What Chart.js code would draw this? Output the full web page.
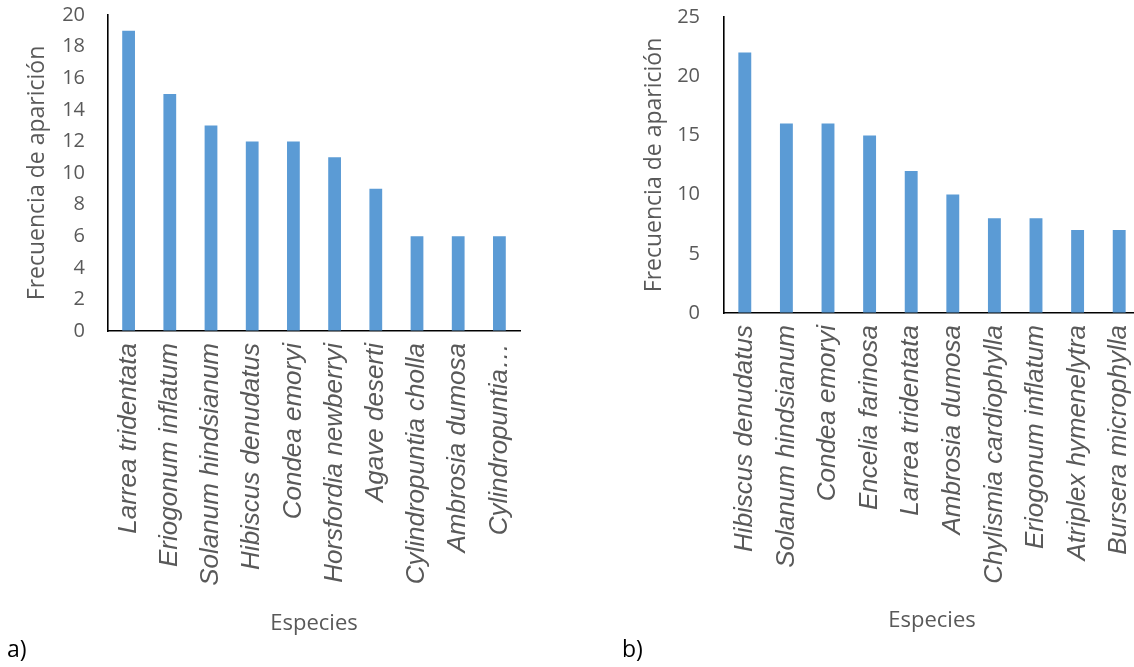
<!DOCTYPE html>
<html lang="es">
<head>
<meta charset="utf-8">
<title>Frecuencia de aparición por especie</title>
<script src="https://cdn.jsdelivr.net/npm/chart.js@4/dist/chart.umd.min.js"></script>
<style>
  html, body { margin: 0; padding: 0; background: #fff; overflow: hidden; }
  body { width: 1134px; height: 667px; position: relative; }
  canvas { position: absolute; top: 0; }
  #chartA { left: 0; }
  #chartB { left: 600px; }
  .panel { position: absolute; font-family: "Open Sans", sans-serif; font-size: 23px; color: #000; line-height: 1; }
</style>
</head>
<body>
<canvas id="chartA" width="560" height="667"></canvas>
<canvas id="chartB" width="560" height="667"></canvas>
<div class="panel" style="left:7px; top:637px;">a)</div>
<div class="panel" style="left:622px; top:637px;">b)</div>
<script>
// Panel a)
const speciesA = ['Larrea tridentata', 'Eriogonum inflatum', 'Solanum hindsianum', 'Hibiscus denudatus',
  'Condea emoryi', 'Horsfordia newberryi', 'Agave deserti', 'Cylindropuntia cholla', 'Ambrosia dumosa',
  'Cylindropuntia…'];
const freqA = [19, 15, 13, 12, 12, 11, 9, 6, 6, 6];
const ticksA = { min: 0, max: 20, step: 2 };

// Panel b)
const speciesB = ['Hibiscus denudatus', 'Solanum hindsianum', 'Condea emoryi', 'Encelia farinosa',
  'Larrea tridentata', 'Ambrosia dumosa', 'Chylismia cardiophylla', 'Eriogonum inflatum',
  'Atriplex hymenelytra', 'Bursera microphylla'];
const freqB = [22, 16, 16, 15, 12, 10, 8, 8, 7, 7];
const ticksB = { min: 0, max: 25, step: 5 };

const yTitle = 'Frecuencia de aparición';
const xTitle = 'Especies';

const BAR = '#5B9BD5';
const GREY = '#595959';

// Invisible tick marks keep the label gap without adding extra padding to the chart area.
function spacer(len) {
  return { display: true, drawOnChartArea: false, drawTicks: true, tickLength: len, tickColor: 'rgba(0,0,0,0)' };
}

function makeChart(id, labels, values, yr, geo) {
  return new Chart(document.getElementById(id), {
    type: 'bar',
    data: {
      labels: labels,
      datasets: [{
        data: values,
        backgroundColor: BAR,
        borderColor: BAR,
        borderWidth: 0,
        barPercentage: 1,
        categoryPercentage: 0.31
      }]
    },
    options: {
      responsive: false,
      animation: false,
      devicePixelRatio: 1,
      layout: { padding: { left: 0, top: geo.top, right: geo.right, bottom: 0 } },
      plugins: { legend: { display: false }, tooltip: { enabled: false } },
      scales: {
        x: {
          grid: spacer(12),
          border: { display: true, color: '#000', width: 1.6 },
          ticks: {
            autoSkip: false,
            minRotation: 90,
            maxRotation: 90,
            padding: 0,
            color: GREY,
            font: { family: '"Liberation Sans", Arial, sans-serif', size: 26, style: 'italic' }
          },
          title: {
            display: true,
            text: xTitle,
            color: GREY,
            font: { family: '"Open Sans", sans-serif', size: 22 },
            padding: { top: 0, bottom: geo.xTitlePad }
          },
          afterFit: s => { s.height = geo.xHeight; }
        },
        y: {
          min: yr.min,
          max: yr.max,
          grid: spacer(geo.yTickPad),
          border: { display: true, color: '#000', width: 1.6 },
          ticks: {
            stepSize: yr.step,
            padding: 0,
            color: GREY,
            font: { family: '"Open Sans", sans-serif', size: 20 }
          },
          title: {
            display: true,
            text: yTitle,
            color: GREY,
            font: { family: '"Open Sans", sans-serif', size: 23 },
            padding: { top: geo.yTitlePad, bottom: 0 }
          },
          afterFit: s => { s.width = geo.yWidth; }
        }
      }
    }
  });
}

makeChart('chartA', speciesA, freqA, ticksA,
  { top: 15, right: 40, xHeight: 336, yWidth: 108, yTickPad: 23, yTitlePad: 24, xTitlePad: 30 });
makeChart('chartB', speciesB, freqB, ticksB,
  { top: 17, right: 20, xHeight: 354, yWidth: 124, yTickPad: 24, yTitlePad: 41, xTitlePad: 33 });
</script>
</body>
</html>
